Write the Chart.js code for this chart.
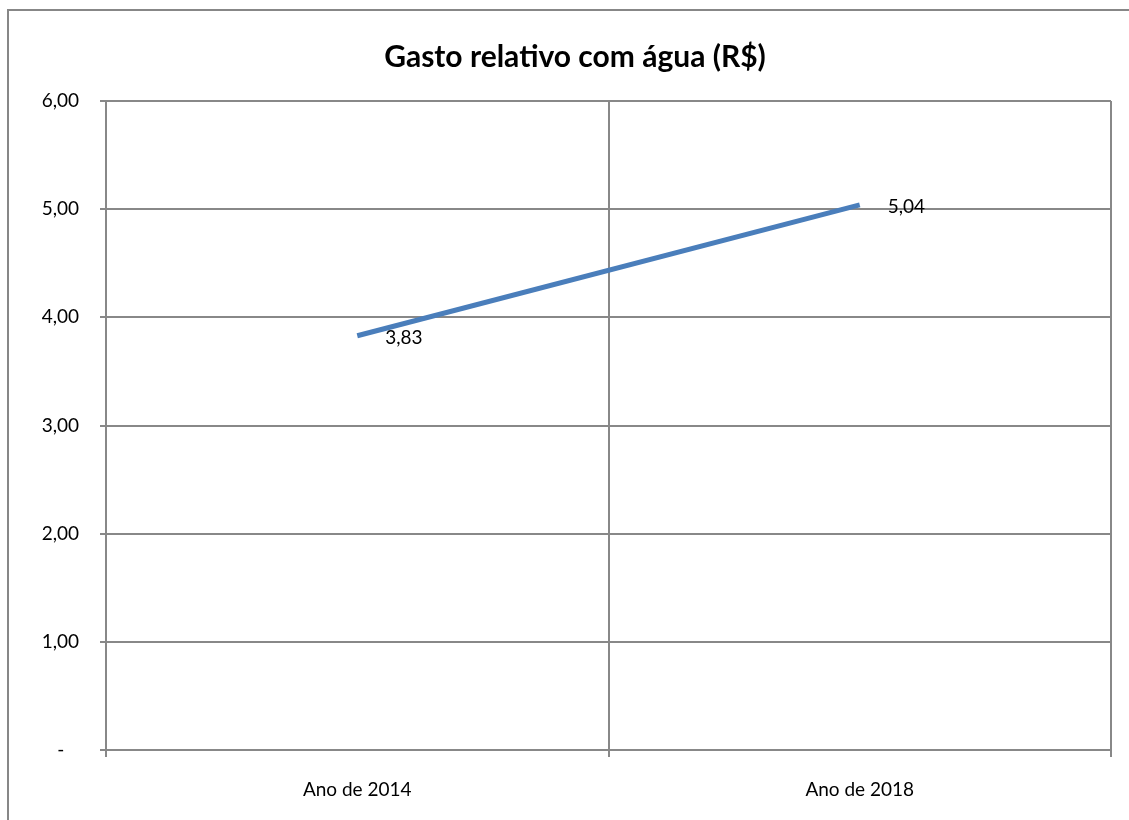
<!DOCTYPE html>
<html>
<head>
<meta charset="utf-8">
<script src="https://cdn.jsdelivr.net/npm/chart.js@4/dist/chart.umd.min.js"></script>
<style>
  body { margin: 0; background: #fff; }
  canvas { display: block; }
</style>
</head>
<body>
<canvas id="waterChart" width="1129" height="820"></canvas>
<script>
const chartTitle = "Gasto relativo com água (R$)";
const categories = ["Ano de 2014", "Ano de 2018"];
const values = [3.83, 5.04];
const yTickLabels = ["-   ", "1,00", "2,00", "3,00", "4,00", "5,00", "6,00"];

const FONT = "Lato, 'Open Sans', sans-serif";
const GRID = "#888888";

function fmt(v) {
    return v.toFixed(2).replace(".", ",");
}

/* ================= FRAME + TITLE ================= */
const framePlugin = {
    id: "frame",
    beforeDraw(chart) {
        const ctx = chart.ctx;
        ctx.save();
        ctx.fillStyle = "#fff";
        ctx.fillRect(0, 0, chart.width, chart.height);
        ctx.strokeStyle = "#878787";
        ctx.lineWidth = 2;
        ctx.strokeRect(8, 10, 1200, 900);
        ctx.fillStyle = "#000";
        ctx.font = "bold 30px " + FONT;
        ctx.textAlign = "center";
        ctx.textBaseline = "middle";
        ctx.fillText(chartTitle, 575, 57);
        ctx.restore();
    }
};

/* ================= DATA LABELS ================= */
const labelPlugin = {
    id: "valueLabels",
    afterDatasetsDraw(chart) {
        const ctx = chart.ctx;
        const meta = chart.getDatasetMeta(0);
        ctx.save();
        ctx.fillStyle = "#000";
        ctx.font = "19px " + FONT;
        ctx.textAlign = "left";
        ctx.textBaseline = "middle";
        meta.data.forEach((pt, i) => {
            ctx.fillText(fmt(values[i]), pt.x + 28, pt.y + 2);
        });
        ctx.restore();
    }
};

new Chart(document.getElementById("waterChart"), {
    type: "line",
    data: {
        labels: categories,
        datasets: [{
            data: values,
            borderColor: "#4A7EBB",
            borderWidth: 5,
            borderCapStyle: "butt",
            pointRadius: 0,
            tension: 0
        }]
    },
    options: {
        responsive: false,
        devicePixelRatio: 1,
        animation: false,
        layout: { padding: { top: 101, right: 18, left: 0, bottom: 0 } },
        plugins: {
            legend: { display: false },
            title: { display: false },
            tooltip: { enabled: false }
        },
        scales: {
            x: {
                offset: true,
                grid: { offset: true, color: GRID, lineWidth: 2, tickLength: 7 },
                border: { color: GRID, width: 2 },
                ticks: { color: "#000", font: { family: FONT, size: 19 }, padding: 21 },
                afterFit: s => { s.height = 70; }
            },
            y: {
                min: 0,
                max: 6,
                ticks: {
                    stepSize: 1,
                    color: "#000",
                    font: { family: FONT, size: 19 },
                    padding: 21,
                    callback: (v, i) => yTickLabels[i]
                },
                grid: { color: GRID, lineWidth: 2, tickLength: 6 },
                border: { color: GRID, width: 2 },
                afterFit: s => { s.width = 106; }
            }
        }
    },
    plugins: [framePlugin, labelPlugin]
});
</script>
</body>
</html>
